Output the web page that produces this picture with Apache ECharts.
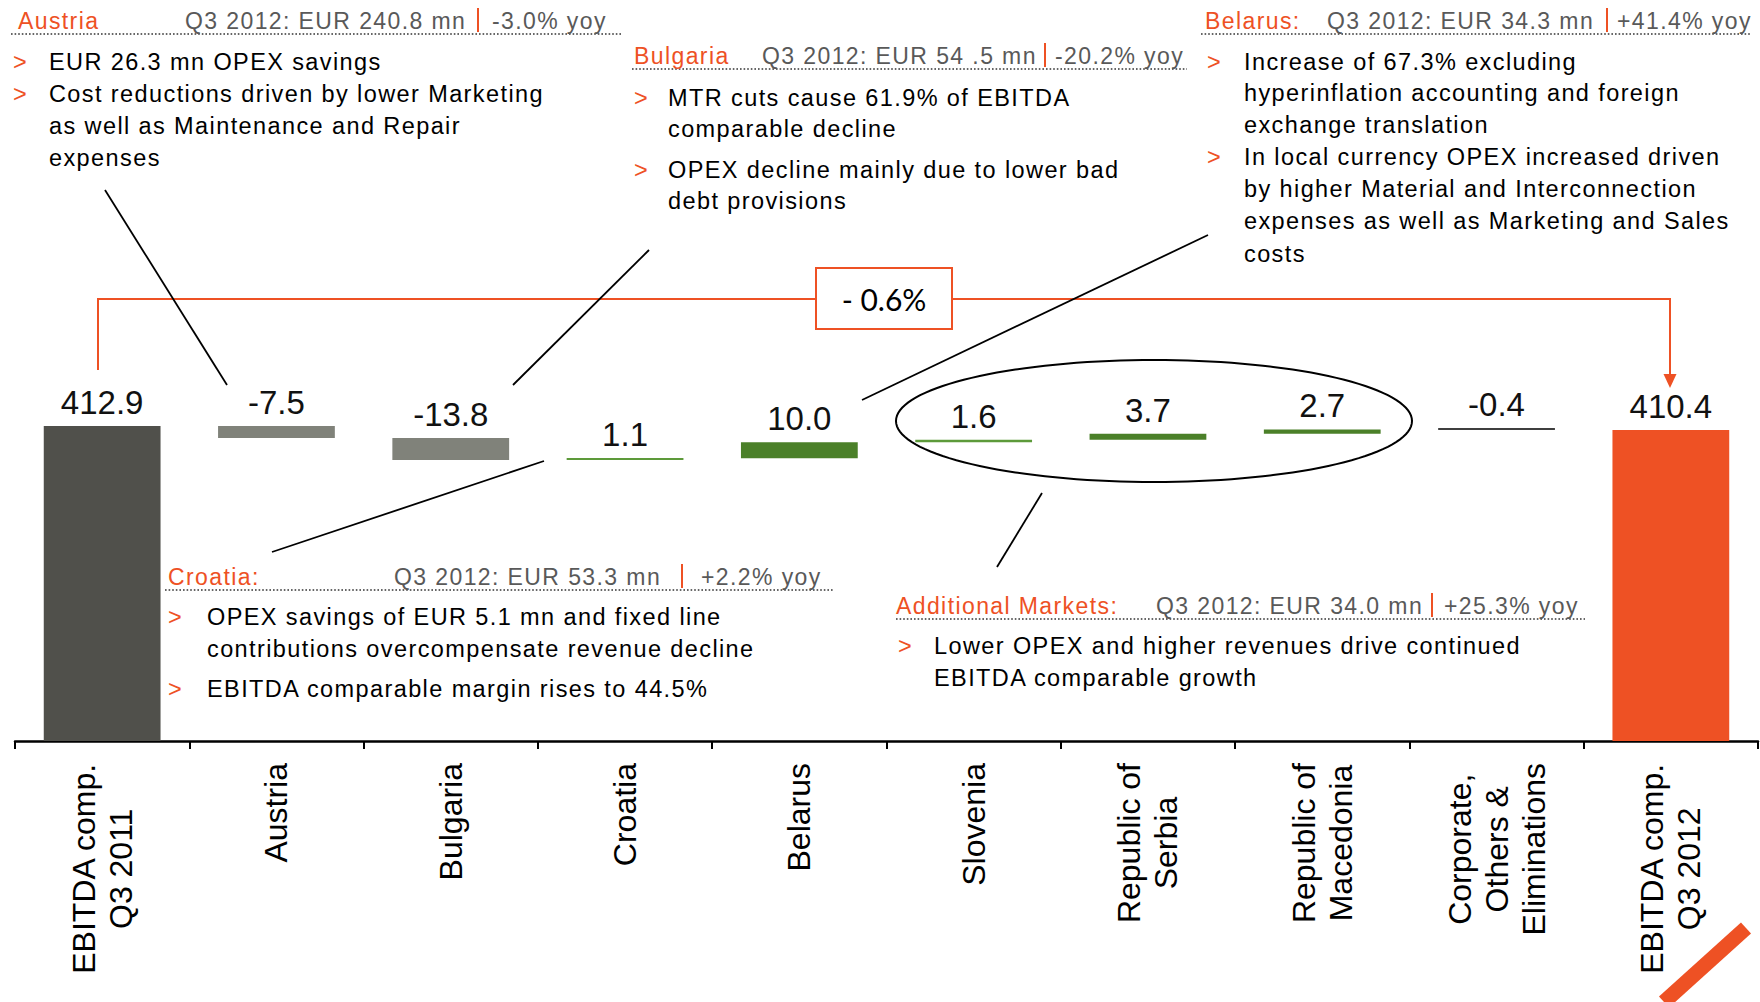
<!DOCTYPE html>
<html>
<head>
<meta charset="utf-8">
<script src="https://cdn.jsdelivr.net/npm/echarts@6/dist/echarts.min.js"></script>
<style>
  html, body { margin: 0; padding: 0; background: #fff; }
  #chart { width: 1760px; height: 1002px; }
  /* commentary text is set with a little extra tracking */
  #chart text[style*="Arial"] { letter-spacing: 1.4px; }
</style>
</head>
<body>
<div id="chart"></div>
<script>
// ---- data -------------------------------------------------------------
const categories = [
  'EBITDA comp.\nQ3 2011', 'Austria', 'Bulgaria', 'Croatia', 'Belarus', 'Slovenia',
  'Republic of\nSerbia', 'Republic of\nMacedonia', 'Corporate,\nOthers &\nEliminations',
  'EBITDA comp.\nQ3 2012'
];
const startTotal = 412.9;                                   // EUR mn, Q3 2011
const changes = [-7.5, -13.8, 1.1, 10.0, 1.6, 3.7, 2.7, -0.4]; // contribution per segment
const endTotal = 410.4;                                     // EUR mn, Q3 2012
const totalChangeLabel = '- 0.6%';

const barColors = ['#50504b', '#80827a', '#80827a', '#5d9a3a', '#4b8029',
                   '#5d9a3a', '#4b8029', '#4b8029', '#3f3f3f', '#ee5124'];

// ---- waterfall stacking (invisible base + visible step) ----------------
const baseVals = [0];
const stepVals = [startTotal];
const labelVals = [startTotal];
let running = startTotal;
changes.forEach(d => {
  const next = running + d;
  baseVals.push(Math.min(running, next));
  stepVals.push(Math.abs(d));
  labelVals.push(d);
  running = next;
});
baseVals.push(0);
stepVals.push(endTotal);
labelVals.push(endTotal);

// ---- commentary helpers -------------------------------------------------
const ORANGE = '#ee5124';
const GREY = '#595959';
const NOTE_FONT = "23.5px 'Liberation Sans', Arial, sans-serif";
const HEAD_FONT = "23px 'Liberation Sans', Arial, sans-serif";

function text(x, y, s, fill, font) {
  return {
    type: 'text', x: x, y: y, z: 20,
    style: { text: s, fill: fill, font: font || NOTE_FONT, align: 'left', verticalAlign: 'middle' }
  };
}
function line(x1, y1, x2, y2, stroke, width, dash) {
  return {
    type: 'line', z: 15,
    shape: { x1: x1, y1: y1, x2: x2, y2: y2 },
    style: { stroke: stroke, lineWidth: width, lineDash: dash || null }
  };
}
// header: name | figure | yoy, underlined with a dotted rule
function header(y, name, nameX, figure, figX, barX, yoy, yoyX, ruleX1, ruleX2) {
  return [
    text(nameX, y, name, ORANGE, HEAD_FONT),
    text(figX, y, figure, GREY, HEAD_FONT),
    line(barX, y - 13, barX, y + 11, ORANGE, 2),
    text(yoyX, y, yoy, GREY, HEAD_FONT),
    line(ruleX1, y + 13, ruleX2, y + 13, '#666', 2, [1.6, 2])
  ];
}
// bullet block: rows = [[y, text, bullet?], ...]
function bullets(bx, tx, rows) {
  const out = [];
  rows.forEach(r => {
    if (r[2]) out.push(text(bx, r[0], '>', ORANGE));
    out.push(text(tx, r[0], r[1], '#000'));
  });
  return out;
}

const notes = [].concat(
  header(21, 'Austria', 18, 'Q3 2012: EUR 240.8 mn', 185, 478, '-3.0% yoy', 492, 11, 621),
  bullets(13, 49, [
    [62, 'EUR 26.3 mn OPEX savings', true],
    [94, 'Cost reductions driven by lower Marketing', true],
    [126, 'as well as Maintenance and Repair'],
    [158, 'expenses']
  ]),
  header(56, 'Bulgaria', 634, 'Q3 2012: EUR 54 .5 mn', 762, 1045, '-20.2% yoy', 1055, 632, 1187),
  bullets(634, 668, [
    [98, 'MTR cuts cause 61.9% of EBITDA', true],
    [129, 'comparable decline'],
    [170, 'OPEX decline mainly due to lower bad', true],
    [201, 'debt provisions']
  ]),
  header(21, 'Belarus:', 1205, 'Q3 2012: EUR 34.3 mn', 1327, 1607, '+41.4% yoy', 1617, 1201, 1751),
  bullets(1207, 1244, [
    [62, 'Increase of 67.3% excluding', true],
    [93, 'hyperinflation accounting and foreign'],
    [125, 'exchange translation'],
    [157, 'In local currency OPEX increased driven', true],
    [189, 'by higher Material and Interconnection'],
    [221, 'expenses as well as Marketing and Sales'],
    [254, 'costs']
  ]),
  header(577, 'Croatia:', 168, 'Q3 2012: EUR 53.3 mn', 394, 682, '+2.2% yoy', 701, 165, 833),
  bullets(168, 207, [
    [617, 'OPEX savings of EUR 5.1 mn and fixed line', true],
    [649, 'contributions overcompensate revenue decline'],
    [689, 'EBITDA comparable margin rises to 44.5%', true]
  ]),
  header(606, 'Additional Markets:', 896, 'Q3 2012: EUR 34.0 mn', 1156, 1432, '+25.3% yoy', 1444, 896, 1585),
  bullets(898, 934, [
    [646, 'Lower OPEX and higher revenues drive continued', true],
    [678, 'EBITDA comparable growth']
  ])
);

// leader lines from the comments to their bars
const leaders = [
  line(105, 190, 227, 385, '#000', 1.8),
  line(649, 250, 513, 385, '#000', 1.8),
  line(1208, 235, 862, 400, '#000', 1.8),
  line(544, 461, 272, 552, '#000', 1.8),
  line(1042, 493, 997, 567, '#000', 1.8)
];

// ellipse around the additional markets
const ellipsePts = [];
for (let k = 0; k < 144; k++) {
  const a = (k / 144) * Math.PI * 2;
  ellipsePts.push([1154 + 258 * Math.cos(a), 421 + 61 * Math.sin(a)]);
}

const bracket = [
  {
    type: 'polyline', z: 10,
    shape: { points: [[98, 370], [98, 299], [1670, 299], [1670, 378]] },
    style: { stroke: ORANGE, lineWidth: 2, fill: null }
  },
  {
    type: 'polygon', z: 10,
    shape: { points: [[1663.5, 374], [1676.5, 374], [1670, 388]] },
    style: { fill: ORANGE }
  },
  {
    type: 'rect', z: 12,
    shape: { x: 816, y: 268, width: 136, height: 61 },
    style: { fill: '#fff', stroke: ORANGE, lineWidth: 2 }
  },
  {
    type: 'text', z: 13, x: 884, y: 299,
    style: { text: totalChangeLabel, fill: '#000', font: '30px Lato', align: 'center', verticalAlign: 'middle' }
  }
];

const extras = [
  {
    type: 'polygon', z: 10,
    shape: { points: ellipsePts },
    style: { fill: null, stroke: '#000', lineWidth: 2 }
  },
  line(1664, 1002, 1746, 928, ORANGE, 15)
];

// ---- chart --------------------------------------------------------------
const chart = echarts.init(document.getElementById('chart'), null, {
  renderer: 'svg', width: 1760, height: 1002
});

chart.setOption({
  animation: false,
  backgroundColor: '#fff',
  grid: { left: 15, right: 2, top: 341, bottom: 261, containLabel: false, outerBoundsMode: 'none' },
  xAxis: {
    type: 'category',
    data: categories,
    axisLine: { lineStyle: { color: '#000', width: 2.5 } },
    axisTick: { show: true, interval: 0, length: 8, lineStyle: { color: '#000', width: 2 } },
    axisLabel: {
      interval: 0, rotate: 90, margin: 22,
      formatter: v => v.split('\n').map(s => '{c|' + s + '}').join('\n'),
      rich: {
        c: { align: 'center', fontSize: 32, lineHeight: 37, fontFamily: 'Liberation Sans', color: '#000' }
      }
    }
  },
  yAxis: { type: 'value', min: 216, max: 466, show: false, splitLine: { show: false } },
  series: [
    {
      type: 'bar', stack: 'wf', barWidth: '67%', silent: true,
      itemStyle: { color: 'rgba(0,0,0,0)' },
      data: baseVals
    },
    {
      type: 'bar', stack: 'wf', barWidth: '67%', barMinHeight: 2,
      data: stepVals.map((v, i) => ({ value: v, itemStyle: { color: barColors[i] } })),
      label: {
        show: true, position: 'top', distance: 7,
        formatter: p => labelVals[p.dataIndex].toFixed(1),
        fontSize: 33, fontFamily: 'Liberation Sans', color: '#111'
      }
    }
  ],
  graphic: [].concat(leaders, extras, bracket, notes)
});
</script>
</body>
</html>
